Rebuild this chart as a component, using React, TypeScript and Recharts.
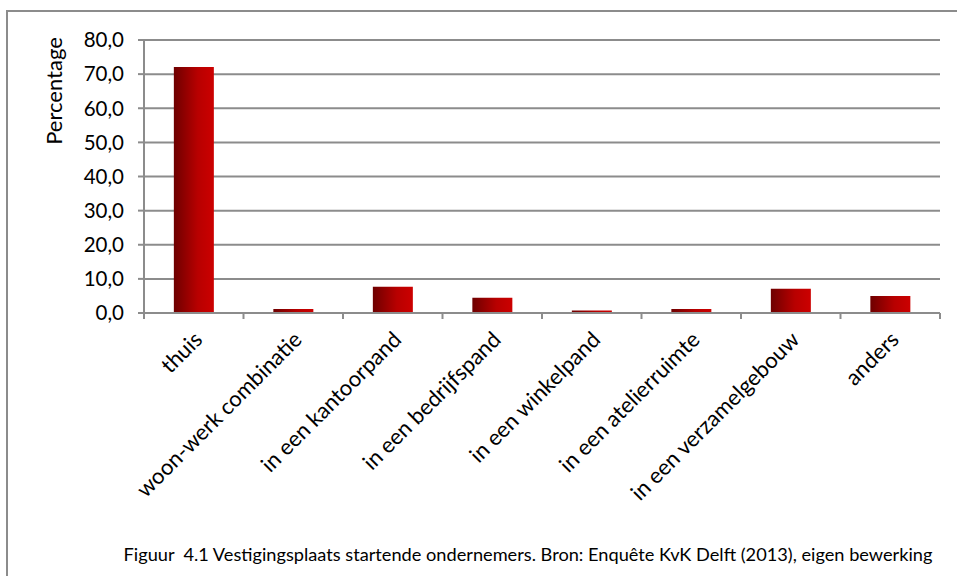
import React from 'react';
import { BarChart, Bar, XAxis, YAxis, CartesianGrid } from 'recharts';

const categories = [
  'thuis',
  'woon-werk combinatie',
  'in een kantoorpand',
  'in een bedrijfspand',
  'in een winkelpand',
  'in een atelierruimte',
  'in een verzamelgebouw',
  'anders',
];
const percentages = [72.1, 1.2, 7.7, 4.5, 0.7, 1.2, 7.1, 5.0];
const yTicks = [0, 10, 20, 30, 40, 50, 60, 70, 80];

const data = categories.map((name, i) => ({ name, value: percentages[i] }));

const FONT = 'Lato, "Open Sans", sans-serif';
const BAND = (940 - 144) / categories.length;

const CategoryTick = ({ x, y, payload, index }: any) => (
  <g>
    <line x1={x - BAND / 2} y1={y - 8} x2={x - BAND / 2} y2={y - 2} stroke="#8c8c8c" strokeWidth={2} />
    {index === categories.length - 1 && (
      <line x1={x + BAND / 2} y1={y - 8} x2={x + BAND / 2} y2={y - 2} stroke="#8c8c8c" strokeWidth={2} />
    )}
    <text
      x={x + 10}
      y={y + 20}
      textAnchor="end"
      fontSize={22}
      fontFamily={FONT}
      fill="#000"
      transform={`rotate(-45, ${x + 10}, ${y + 20})`}
    >
      {payload.value}
    </text>
  </g>
);

const App = () => {
  return (
    <div style={{ position: 'absolute', left: 0, top: 0, width: 957, height: 576, background: '#fff', overflow: 'hidden' }}>
      <div
        style={{
          position: 'absolute',
          left: 6,
          top: 10,
          width: 980,
          height: 620,
          border: '2px solid #8c8c8c',
        }}
      />
      <BarChart
        width={957}
        height={576}
        data={data}
        margin={{ top: 40, right: 17, left: 0, bottom: 0 }}
        barCategoryGap="30%"
      >
        <defs>
          <linearGradient id="barFill" x1="0" y1="0" x2="1" y2="0">
            <stop offset="0%" stopColor="#6e0000" />
            <stop offset="60%" stopColor="#b80000" />
            <stop offset="100%" stopColor="#cc0000" />
          </linearGradient>
        </defs>
        <CartesianGrid vertical={false} stroke="#8c8c8c" strokeWidth={2} />
        <XAxis
          dataKey="name"
          interval={0}
          tickLine={false}
          axisLine={{ stroke: '#8c8c8c', strokeWidth: 2 }}
          tick={<CategoryTick />}
          height={263}
        />
        <YAxis
          domain={[0, 80]}
          ticks={yTicks}
          width={144}
          axisLine={{ stroke: '#8c8c8c', strokeWidth: 2 }}
          tickLine={{ stroke: '#8c8c8c', strokeWidth: 2 }}
          tickSize={6}
          tickMargin={14}
          tick={{ fontSize: 20.5, fontFamily: FONT, fill: '#000' }}
          tickFormatter={(v: number) => v.toFixed(1).replace('.', ',')}
        />
        <Bar dataKey="value" fill="url(#barFill)" isAnimationActive={false} />
        <text
          x={53}
          y={91}
          textAnchor="middle"
          dominantBaseline="central"
          fontSize={22}
          fontFamily={FONT}
          transform="rotate(-90, 53, 91)"
        >
          Percentage
        </text>
      </BarChart>
      <div
        style={{
          position: 'absolute',
          left: 0,
          width: 1056,
          top: 543,
          textAlign: 'center',
          fontFamily: FONT,
          fontSize: 18.2,
          color: '#000',
          whiteSpace: 'nowrap',
        }}
      >
        Figuur&nbsp; 4.1 Vestigingsplaats startende ondernemers. Bron: Enquête KvK Delft (2013), eigen bewerking
      </div>
    </div>
  );
};

export default App;
